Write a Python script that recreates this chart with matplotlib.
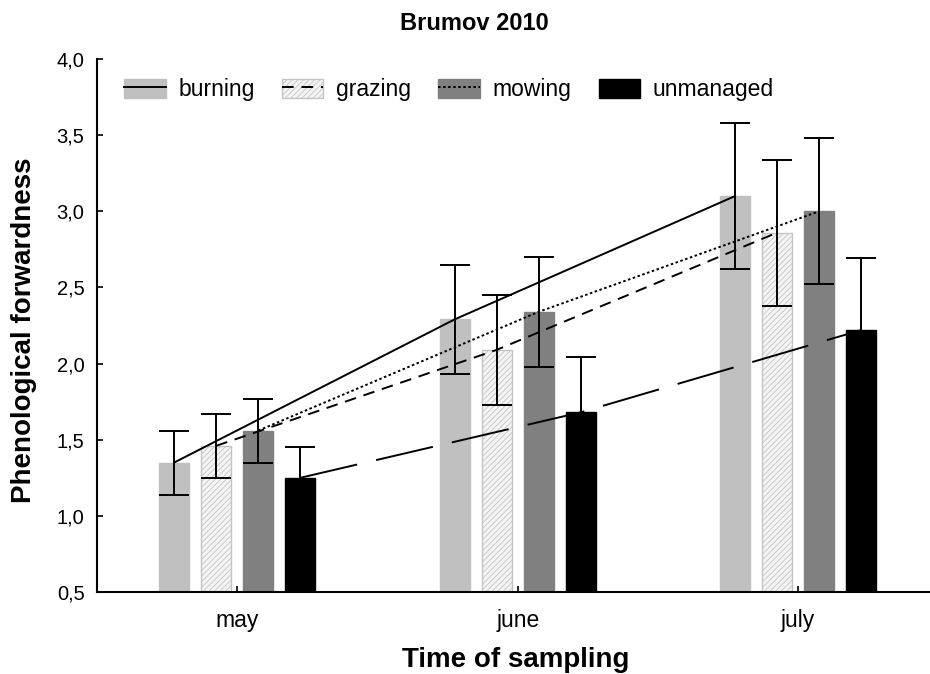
import numpy as np
import matplotlib
matplotlib.use("Agg")
import matplotlib.pyplot as plt
from matplotlib.patches import Patch
from matplotlib.lines import Line2D
from matplotlib.ticker import FuncFormatter

plt.rcParams["font.family"] = ["Liberation Sans", "DejaVu Sans"]
plt.rcParams["hatch.linewidth"] = 0.6

months = ["may", "june", "july"]
treatments = ["burning", "grazing", "mowing", "unmanaged"]

burning = [1.35, 2.29, 3.10]
grazing = [1.46, 2.09, 2.86]
mowing = [1.56, 2.34, 3.00]
unmanaged = [1.25, 1.68, 2.22]

burning_err = [0.21, 0.36, 0.48]
grazing_err = [0.21, 0.36, 0.48]
mowing_err = [0.21, 0.36, 0.48]
unmanaged_err = [0.20, 0.36, 0.47]

means = [burning, grazing, mowing, unmanaged]
errs = [burning_err, grazing_err, mowing_err, unmanaged_err]

face = ["#c0c0c0", "#f4f4f4", "#808080", "#000000"]
edge = ["#c0c0c0", "#c4c4c4", "#808080", "#000000"]
hatch = [None, "//////", None, None]
styles = ["-", (0, (6, 4)), (0, (1.3, 1.3)), (0, (30, 10))]

W, H = 930, 674
fig = plt.figure(figsize=(W / 100, H / 100), dpi=100)
ax = fig.add_axes([97 / W, 82 / H, 833 / W, 533 / H])

x = np.arange(len(months))
offsets = [-0.225, -0.075, 0.075, 0.225]
width = 0.107

handles = []
for i, name in enumerate(treatments):
    xs = x + offsets[i]
    ax.bar(xs, np.array(means[i]) - 0.5, width, bottom=0.5, color=face[i],
           edgecolor=edge[i], hatch=hatch[i], linewidth=1, zorder=1)
    ax.errorbar(xs, means[i], yerr=errs[i], fmt="none", ecolor="black",
                elinewidth=1.4, capsize=10.5, capthick=1.4, zorder=3)
    ax.plot(xs, means[i], color="black", linestyle=styles[i], linewidth=1.4, zorder=2)
    p = Patch(facecolor=face[i], edgecolor=edge[i], hatch=hatch[i], linewidth=1)
    if name == "unmanaged":
        handles.append(p)
    else:
        ln = Line2D([], [], color="black", linestyle=styles[i], linewidth=1.4)
        handles.append((p, ln))

ax.set_xlim(-0.5, 2.47)
ax.set_ylim(0.5, 4.0)
ax.set_yticks(np.arange(0.5, 4.01, 0.5))
ax.yaxis.set_major_formatter(FuncFormatter(lambda v, _: f"{v:.1f}".replace(".", ",")))
ax.set_xticks(x)
ax.set_xticklabels(months)

for s in ["top", "right"]:
    ax.spines[s].set_visible(False)
ax.spines["left"].set_linewidth(1.5)
ax.spines["bottom"].set_linewidth(1.5)
ax.tick_params(axis="y", direction="in", length=4, width=1.2, labelsize=14.5, pad=9)
ax.tick_params(axis="x", direction="in", length=4, width=1.2, labelsize=16.5, pad=12)

# titles placed in figure pixels
fig.text(474 / W, 1 - 24 / H, "Brumov 2010", fontsize=17, fontweight="bold",
         ha="center", va="center")
fig.text(516 / W, 1 - 667 / H, "Time of sampling", fontsize=20, fontweight="bold",
         ha="center", va="baseline")
fig.text(24 / W, 1 - 330 / H, "Phenological forwardness", fontsize=20,
         fontweight="bold", rotation=90, ha="center", va="center")

ax.legend(handles, treatments, loc="upper left", bbox_to_anchor=(0.008, 1.003),
          ncol=4, frameon=False, fontsize=16.5, handlelength=1.8, handleheight=0.9,
          handletextpad=0.55, columnspacing=1.2)

fig.savefig("out.png", dpi=100)
